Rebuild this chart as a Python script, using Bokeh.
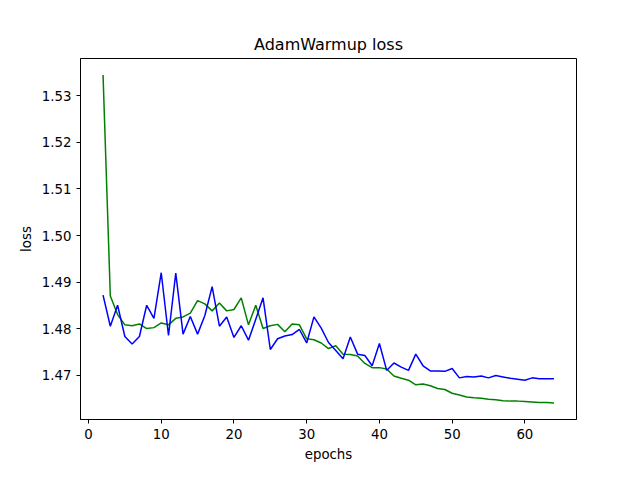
from bokeh.plotting import figure
from bokeh.models import Range1d, FixedTicker, PrintfTickFormatter
from bokeh.embed import file_html
from bokeh.resources import INLINE

epochs = list(range(2, 65))
green_loss = [1.5345, 1.4870, 1.4830, 1.4808, 1.4806, 1.4810, 1.4800, 1.4802, 1.4812, 1.4808,
              1.4822, 1.4825, 1.4833, 1.4860, 1.4853, 1.4838, 1.4855, 1.4838, 1.4841, 1.4866,
              1.4808, 1.4850, 1.4800, 1.4806, 1.4809, 1.4793, 1.4810, 1.4808, 1.4778, 1.4776,
              1.4769, 1.4757, 1.4763, 1.4745, 1.4744, 1.4741, 1.4725, 1.4716, 1.4716, 1.4713,
              1.4698, 1.4693, 1.4689, 1.4679, 1.4681, 1.4677, 1.4671, 1.4669, 1.4661, 1.4657,
              1.4653, 1.4651, 1.4650, 1.4648, 1.4647, 1.4645, 1.4644, 1.4644, 1.4643, 1.4642,
              1.4641, 1.4641, 1.4640]
blue_loss = [1.4872, 1.4805, 1.4850, 1.4783, 1.4767, 1.4783, 1.4850, 1.4822, 1.4920, 1.4785,
             1.4919, 1.4788, 1.4826, 1.4788, 1.4828, 1.4890, 1.4805, 1.4825, 1.4781, 1.4806,
             1.4775, 1.4820, 1.4866, 1.4755, 1.4778, 1.4784, 1.4787, 1.4798, 1.4769, 1.4825,
             1.4801, 1.4770, 1.4753, 1.4735, 1.4782, 1.4745, 1.4742, 1.4720, 1.4768, 1.4710,
             1.4726, 1.4717, 1.4710, 1.4745, 1.4720, 1.4709, 1.4709, 1.4708, 1.4714, 1.4694,
             1.4697, 1.4696, 1.4698, 1.4694, 1.4699, 1.4696, 1.4693, 1.4691, 1.4689, 1.4694,
             1.4692, 1.4692, 1.4692]
x_ticks = [0, 10, 20, 30, 40, 50, 60]
y_ticks = [1.47, 1.48, 1.49, 1.50, 1.51, 1.52, 1.53]

p = figure(width=624, height=464, title="AdamWarmup loss",
           output_backend="svg", toolbar_location=None,
           x_range=Range1d(-1.1, 67.1), y_range=Range1d(1.46045, 1.53805),
           min_border_left=80, min_border_right=48, min_border_top=58, min_border_bottom=42,
           x_axis_label="epochs", y_axis_label="loss")

p.line(epochs, green_loss, line_color="green", line_width=1.5)
p.line(epochs, blue_loss, line_color="blue", line_width=1.5)

p.title.align = "center"
p.title.text_font = "DejaVu Sans"
p.title.text_font_size = "12pt"
p.title.text_font_style = "normal"
p.title.text_color = "black"
p.xgrid.visible = False
p.ygrid.visible = False
p.outline_line_color = "black"
p.outline_line_alpha = 1

p.xaxis.ticker = FixedTicker(ticks=x_ticks)
p.yaxis.ticker = FixedTicker(ticks=y_ticks)
p.yaxis.formatter = PrintfTickFormatter(format="%.2f")
for ax in (p.xaxis, p.yaxis):
    ax.minor_tick_line_color = None
    ax.major_label_text_font = "DejaVu Sans"
    ax.major_label_text_font_size = "10pt"
    ax.major_label_text_color = "black"
    ax.axis_label_text_font = "DejaVu Sans"
    ax.axis_label_text_font_size = "10pt"
    ax.axis_label_text_font_style = "normal"
    ax.axis_label_text_color = "black"
    ax.major_tick_in = 0
    ax.major_tick_out = 4
    ax.axis_line_color = "black"
    ax.major_tick_line_color = "black"

open("out.html", "w").write(file_html(p, INLINE))
